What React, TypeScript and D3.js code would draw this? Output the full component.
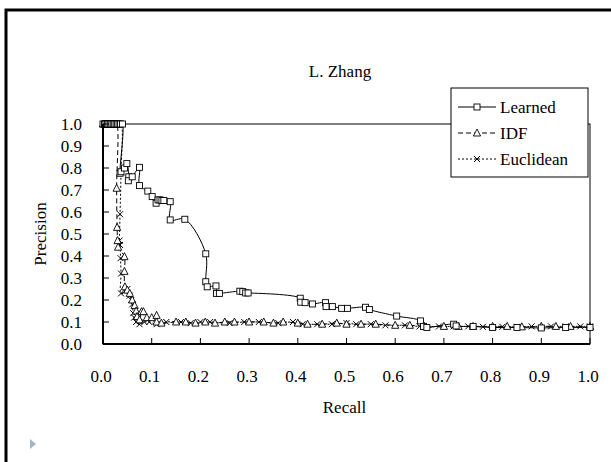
import React from 'react';
import * as d3 from 'd3';

const width = 611;
const height = 462;
const margin = { top: 124, right: 21, bottom: 118, left: 103 };

const title = 'L. Zhang';
const xTicks = [0, 0.1, 0.2, 0.3, 0.4, 0.5, 0.6, 0.7, 0.8, 0.9, 1.0];
const yTicks = [0, 0.1, 0.2, 0.3, 0.4, 0.5, 0.6, 0.7, 0.8, 0.9, 1.0];

// [recall, precision]
const learned: [number, number][] = [
  [0, 1], [0.003, 1], [0.006, 1], [0.009, 1], [0.012, 1], [0.015, 1], [0.018, 1], [0.021, 1],
  [0.024, 1], [0.027, 1], [0.03, 1], [0.033, 1], [0.036, 1], [0.04, 1],
  [0.035, 0.776], [0.037, 0.783], [0.044, 0.8], [0.049, 0.82], [0.053, 0.76], [0.052, 0.742],
  [0.06, 0.76], [0.075, 0.803], [0.075, 0.72], [0.092, 0.695], [0.101, 0.67], [0.109, 0.64],
  [0.113, 0.655], [0.117, 0.655], [0.121, 0.652], [0.125, 0.652], [0.138, 0.647], [0.138, 0.564],
  [0.168, 0.567], [0.211, 0.41], [0.211, 0.283], [0.214, 0.26], [0.232, 0.264], [0.233, 0.23],
  [0.239, 0.23], [0.281, 0.24], [0.287, 0.238], [0.293, 0.232], [0.298, 0.232], [0.405, 0.208],
  [0.406, 0.19], [0.415, 0.188], [0.43, 0.182], [0.457, 0.188], [0.458, 0.17], [0.471, 0.17],
  [0.49, 0.162], [0.502, 0.162], [0.539, 0.167], [0.547, 0.157], [0.603, 0.127], [0.652, 0.105],
  [0.658, 0.08], [0.665, 0.075], [0.72, 0.09], [0.725, 0.082], [0.76, 0.08], [0.8, 0.075],
  [0.85, 0.075], [0.9, 0.073], [0.95, 0.075], [1.0, 0.075],
];

const idf: [number, number][] = [
  [0, 1], [0.004, 1], [0.008, 1], [0.012, 1], [0.016, 1], [0.02, 1], [0.024, 1], [0.028, 1],
  [0.028, 0.708], [0.029, 0.53],
  [0.03, 0.47], [0.031, 0.44], [0.044, 0.397], [0.044, 0.33], [0.045, 0.26], [0.05, 0.245],
  [0.055, 0.23], [0.06, 0.2], [0.065, 0.175], [0.068, 0.15], [0.07, 0.125], [0.075, 0.11],
  [0.079, 0.147], [0.083, 0.147], [0.09, 0.12], [0.1, 0.12], [0.11, 0.13], [0.11, 0.1],
  [0.12, 0.095], [0.15, 0.1], [0.17, 0.1], [0.19, 0.095], [0.21, 0.1], [0.23, 0.095], [0.25, 0.1],
  [0.27, 0.1], [0.3, 0.1], [0.33, 0.1], [0.35, 0.095], [0.37, 0.1], [0.4, 0.095], [0.42, 0.09],
  [0.45, 0.09], [0.48, 0.095], [0.5, 0.09], [0.53, 0.09], [0.56, 0.09], [0.6, 0.085], [0.63, 0.085],
  [0.66, 0.08], [0.7, 0.08], [0.73, 0.08], [0.76, 0.08], [0.8, 0.08], [0.83, 0.08], [0.86, 0.078],
  [0.9, 0.08], [0.93, 0.08], [0.96, 0.08], [1.0, 0.08],
];

const euclidean: [number, number][] = [
  [0, 1], [0.004, 1], [0.008, 1], [0.012, 1], [0.016, 1], [0.02, 1], [0.024, 1], [0.028, 1],
  [0.032, 1], [0.037, 1], [0.037, 0.78], [0.035, 0.59],
  [0.034, 0.47], [0.035, 0.45], [0.036, 0.39], [0.037, 0.32], [0.037, 0.23], [0.045, 0.24],
  [0.05, 0.25], [0.055, 0.22], [0.058, 0.2], [0.06, 0.18], [0.062, 0.14], [0.064, 0.12],
  [0.068, 0.1], [0.075, 0.09], [0.085, 0.1], [0.095, 0.1], [0.11, 0.09], [0.13, 0.1], [0.16, 0.1],
  [0.18, 0.095], [0.2, 0.1], [0.22, 0.1], [0.26, 0.095], [0.29, 0.1], [0.32, 0.1], [0.36, 0.095],
  [0.39, 0.1], [0.41, 0.09], [0.44, 0.09], [0.47, 0.09], [0.5, 0.095], [0.52, 0.09], [0.55, 0.09],
  [0.58, 0.085], [0.62, 0.085], [0.65, 0.08], [0.69, 0.08], [0.72, 0.08], [0.75, 0.08],
  [0.78, 0.078], [0.82, 0.078], [0.85, 0.078], [0.88, 0.08], [0.92, 0.08], [0.95, 0.08],
  [0.98, 0.08], [1.0, 0.08],
];

const seriesNames = ['Learned', 'IDF', 'Euclidean'];

const textStyle = { fontFamily: 'Liberation Serif', fontSize: 17 };

const Marker = ({ type, x, y }: { type: string; x: number; y: number }) => {
  if (type === 'square') {
    return <rect x={x - 3} y={y - 3} width={6} height={6} fill="white" stroke="black" strokeWidth={0.9} />;
  }
  if (type === 'triangle') {
    return <path d={`M${x},${y - 4}L${x + 3.6},${y + 3}L${x - 3.6},${y + 3}Z`} fill="white" stroke="black" strokeWidth={0.9} />;
  }
  return <path d={`M${x - 3},${y - 3}L${x + 3},${y + 3}M${x - 3},${y + 3}L${x + 3},${y - 3}`} stroke="black" strokeWidth={1} />;
};

const App = () => {
  const innerW = width - margin.left - margin.right;
  const innerH = height - margin.top - margin.bottom;

  const x = d3.scaleLinear().domain([0, 1]).range([margin.left, margin.left + innerW]);
  const y = d3.scaleLinear().domain([0, 1]).range([margin.top + innerH, margin.top]);

  const line = d3.line<[number, number]>()
    .x(d => x(d[0]))
    .y(d => y(d[1]))
    .curve(d3.curveCatmullRom.alpha(0.5));

  const series = [
    { name: seriesNames[2], data: euclidean, dash: '2,2', marker: 'cross' },
    { name: seriesNames[1], data: idf, dash: '5,3', marker: 'triangle' },
    { name: seriesNames[0], data: learned, dash: undefined, marker: 'square' },
  ];
  const legendItems = [...series].reverse();
  const fmt = d3.format('.1f');

  return (
    <svg width={width} height={height}
      style={{ position: 'absolute', left: 0, top: 0, background: 'white' }}>
      {/* outer frame runs off the right and bottom */}
      <rect x={6} y={10} width={800} height={700} fill="white" stroke="black" strokeWidth={3} />

      <rect x={x(0)} y={y(1)} width={innerW} height={innerH} fill="none" stroke="black" strokeWidth={1} />

      {series.map(s => (
        <path key={s.name} d={line(s.data) || ''} fill="none" stroke="black" strokeWidth={1} strokeDasharray={s.dash} />
      ))}
      {series.map(s => (
        <g key={s.name}>
          {s.data.map((d, i) => <Marker key={i} type={s.marker} x={x(d[0])} y={y(d[1])} />)}
        </g>
      ))}

      <line x1={x(0)} x2={x(1)} y1={y(0)} y2={y(0)} stroke="black" strokeWidth={2} />
      <line x1={x(0)} x2={x(0)} y1={y(0)} y2={y(1)} stroke="black" strokeWidth={2} />

      {xTicks.map(t => (
        <g key={t}>
          <line x1={x(t)} x2={x(t)} y1={y(0)} y2={y(0) - 6} stroke="black" strokeWidth={1} />
          <text x={x(t) - 2} y={y(0) + 38} textAnchor="middle" style={textStyle}>{fmt(t)}</text>
        </g>
      ))}
      {yTicks.map(t => (
        <g key={t}>
          <line x1={x(0)} x2={x(0) + 6} y1={y(t)} y2={y(t)} stroke="black" strokeWidth={1} />
          <text x={x(0) - 21} y={y(t) + 6} textAnchor="end" style={textStyle}>{fmt(t)}</text>
        </g>
      ))}

      <text x={340} y={77} textAnchor="middle" style={textStyle}>{title}</text>
      <text x={(x(0) + x(1)) / 2 - 2} y={413} textAnchor="middle" style={textStyle}>Recall</text>
      <text transform={`translate(46,${(y(0) + y(1)) / 2}) rotate(-90)`} textAnchor="middle" style={textStyle}>Precision</text>

      <g>
        <rect x={451} y={88} width={137} height={89} fill="white" stroke="black" strokeWidth={1} />
        {legendItems.map((it, i) => {
          const cy = 107 + i * 26;
          return (
            <g key={it.name}>
              <line x1={458} x2={496} y1={cy} y2={cy} stroke="black" strokeWidth={1} strokeDasharray={it.dash} />
              <Marker type={it.marker} x={477} y={cy} />
              <text x={500} y={cy + 6} style={textStyle}>{it.name}</text>
            </g>
          );
        })}
      </g>

      {/* slide bullet */}
      <path d="M30,439L36,444L30,449Z" fill="#9fb6cd" />
    </svg>
  );
};

export default App;
